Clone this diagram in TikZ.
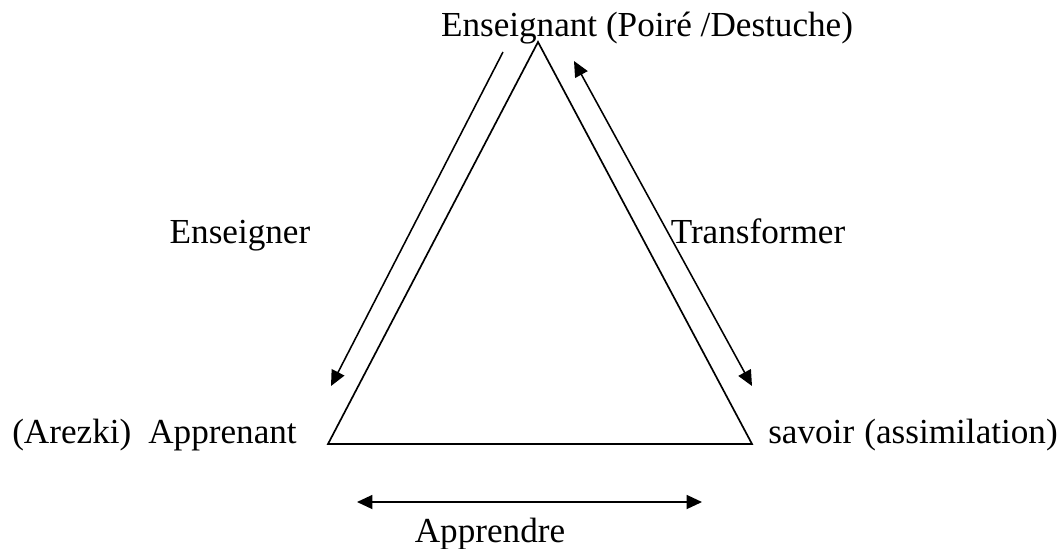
\documentclass[tikz,border=0pt]{standalone}
\usepackage{fontspec}
\setmainfont{Liberation Serif}
\usetikzlibrary{arrows.meta}
\begin{document}
\begin{tikzpicture}[x=0.025cm,y=-0.025cm,font=\fontsize{25}{30}\selectfont,
  every node/.style={inner sep=0pt,anchor=base},
  cote/.style={line width=1.2pt},
  fleche/.style={line width=1.1pt,-{Triangle[length=11pt,width=10pt]}},
  double fleche/.style={line width=1.1pt,{Triangle[length=11pt,width=10pt]}-{Triangle[length=11pt,width=10pt]}}]
\useasboundingbox (0,0) rectangle (1063,548);
\coordinate (sommet) at (538,42);
\coordinate (gauche) at (328,444);
\coordinate (droite) at (752,444);
\draw[cote] (sommet)--(gauche)--(droite)--cycle;
\node (enseignant) at (647,36) {Enseignant (Poiré /Destuche)};
\node[anchor=base west] (arezki) at (12,443) {(Arezki)};
\node[anchor=base east] (apprenant) at (297,443) {Apprenant};
\node[anchor=base west] (savoir) at (768,443) {savoir};
\node[anchor=base east] (assimilation) at (1058,443) {(assimilation)};
\node (enseigner) at (240,243) {Enseigner};
\node (transformer) at (758,243) {Transformer};
\node (apprendre) at (490,542) {Apprendre};
\coordinate (e1) at (503,52);
\coordinate (e2) at (331,386);
\coordinate (t1) at (574,61);
\coordinate (t2) at (752,386);
\coordinate (a1) at (357,502);
\coordinate (a2) at (702,502);
\draw[fleche] (e1)--(e2);
\draw[double fleche] (t1)--(t2);
\draw[double fleche] (a1)--(a2);
\end{tikzpicture}
\end{document}
